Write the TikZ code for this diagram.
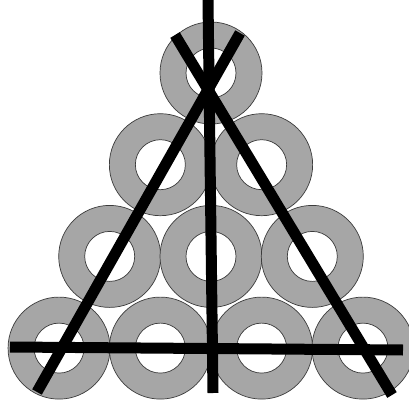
\documentclass[tikz,border=0pt]{standalone}
\usetikzlibrary{calc}
\definecolor{ringgray}{RGB}{166,166,166}
\definecolor{ringedge}{RGB}{60,60,60}

\begin{document}
\begin{tikzpicture}[x=0.02cm, y=-0.02cm,
    ring/.style={draw=ringedge, line width=0.4pt, fill=ringgray, even odd rule},
    bar/.style={draw=black, line width=0.22cm}]
  \fill[white] (0,0) rectangle (409,402);
  \useasboundingbox (0,0) rectangle (409,402);
  % rings, four rows
  \foreach \row in {0,...,3}{
    \foreach \col in {0,...,\row}{
      \path[ring] ({211+(\col-\row/2)*101.3}, {73+\row*91.7}) circle (51)
        ({211+(\col-\row/2)*101.3}, {73+\row*91.7}) circle (25);
    }
  }
  % end points of the bars
  \coordinate (vtop) at (208,0);
  \coordinate (vbot) at (213,393);
  \coordinate (hleft) at (10,347);
  \coordinate (hright) at (403,350);
  \coordinate (ltop) at (175,35);
  \coordinate (rbot) at (392,395);
  \coordinate (rtop) at (240,33);
  \coordinate (lbot) at (37,392);
  \draw[bar] (vtop) -- (vbot);
  \draw[bar] (hleft) -- (hright);
  \draw[bar] (ltop) -- (rbot);
  \draw[bar] (rtop) -- (lbot);
\end{tikzpicture}
\end{document}
